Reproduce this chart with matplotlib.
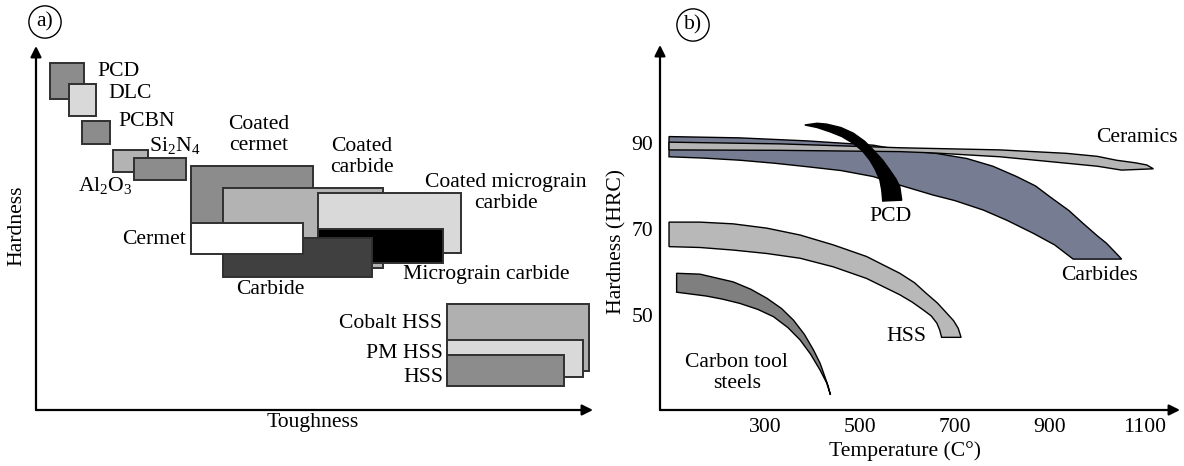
import numpy as np
import matplotlib
matplotlib.use('Agg')
import matplotlib.pyplot as plt

plt.rcParams['font.family'] = ['Liberation Serif', 'DejaVu Serif']
plt.rcParams['mathtext.fontset'] = 'custom'
plt.rcParams['mathtext.rm'] = 'Liberation Serif'
plt.rcParams['mathtext.it'] = 'Liberation Serif'
plt.rcParams['mathtext.default'] = 'regular'
FS = 15.6

# ---- panel a: toughness / hardness ranges (arbitrary units) ----
materials = ['Coated cermet', 'Coated carbide', 'Coated micrograin carbide', 'Micrograin carbide',
             'Carbide', 'Cermet', 'PCD', 'DLC', 'PCBN', 'Al2O3', 'Si2N4',
             'Cobalt HSS', 'PM HSS', 'HSS']
tough_lo = [155, 187, 282, 282, 187, 155, 14, 33, 46, 77, 98, 411, 411, 411]
tough_hi = [277, 347, 425, 407, 336, 267, 48, 60, 74, 112, 150, 553, 547, 528]
hard_lo = [170, 142, 157, 147, 133, 156, 311, 294, 266, 238, 230, 39, 33, 24]
hard_hi = [244, 222, 217, 181, 172, 187, 347, 326, 289, 260, 252, 106, 70, 55]
box_colors = ['#8c8c8c', '#b3b3b3', '#d9d9d9', '#000000', '#404040', '#ffffff',
              '#8c8c8c', '#d9d9d9', '#8c8c8c', '#b3b3b3', '#8c8c8c',
              '#b0b0b0', '#d9d9d9', '#8c8c8c']

# ---- panel b: hardness (HRC) vs temperature bands ----
carb_top_T = [98, 247, 388, 528, 584, 660, 725, 780, 830, 870, 900, 940, 970, 1000, 1019, 1040, 1051]
carb_top_H = [91.5, 91.2, 90.5, 89.5, 88.4, 87.6, 86.4, 84.6, 82.2, 80.0, 77.5, 74.3, 71.3, 68.4, 66.7, 64.3, 63.0]
carb_bot_T = [949, 910, 865, 810, 760, 700, 654, 584, 528, 460, 388, 320, 247, 170, 98]
carb_bot_H = [63.0, 66.3, 69.0, 72.0, 74.4, 76.6, 77.9, 80.2, 82.2, 83.6, 84.5, 85.3, 86.0, 86.5, 86.8]

cer_top_T = [98, 332, 584, 795, 935, 1000, 1040, 1080, 1104, 1118]
cer_top_H = [90.2, 89.8, 88.9, 88.4, 87.6, 86.9, 86.0, 85.4, 84.9, 84.0]
cer_bot_T = [1051, 1000, 935, 795, 654, 584, 332, 98]
cer_bot_H = [83.7, 84.6, 85.3, 86.8, 87.7, 88.0, 88.3, 88.4]

pcd_out_T = [384, 410, 430, 460, 486, 510, 528, 548, 563, 576, 584, 588]
pcd_out_H = [94.2, 94.6, 94.4, 93.6, 92.3, 90.4, 88.4, 86.0, 83.7, 81.6, 79.8, 76.7]
pcd_in_T = [548, 546, 542, 532, 521, 505, 486, 462, 437, 410]
pcd_in_H = [76.5, 79.0, 81.4, 83.9, 86.0, 88.2, 89.9, 91.5, 92.6, 93.6]

hss_top_T = [98, 163, 233, 304, 374, 444, 514, 584, 615, 640, 663, 683, 697, 707, 713]
hss_top_H = [71.6, 71.6, 71.2, 70.2, 68.6, 66.3, 63.6, 59.7, 57.5, 55.0, 52.8, 50.4, 48.7, 46.9, 44.8]
hss_bot_T = [672, 668, 662, 650, 633, 610, 584, 514, 444, 374, 304, 233, 163, 98]
hss_bot_H = [44.8, 46.5, 48.1, 49.8, 51.2, 53.0, 54.7, 58.5, 61.2, 63.2, 64.3, 65.1, 65.7, 65.9]

cts_top_T = [114, 163, 233, 270, 304, 335, 360, 383, 402, 416, 426, 433, 438]
cts_top_H = [59.7, 59.5, 57.7, 56.0, 53.9, 51.5, 48.8, 45.5, 41.9, 38.8, 35.7, 33.5, 31.4]
cts_bot_T = [430, 416, 396, 374, 348, 318, 285, 247, 210, 177, 114]
cts_bot_H = [34.2, 37.2, 40.9, 44.2, 47.1, 49.6, 51.3, 52.7, 53.7, 54.4, 55.3]

temp_ticks = [300, 500, 700, 900, 1100]
hrc_ticks = [50, 70, 90]

W, H = 1184, 466
fig = plt.figure(figsize=(W / 100, H / 100), dpi=100)


def arrows(ax):
    for s in ax.spines.values():
        s.set_visible(False)
    kw = dict(arrowstyle='-|>', color='black', lw=1.6, mutation_scale=16, shrinkA=0, shrinkB=0)
    ax.annotate('', xy=(1, 0), xytext=(0, 0), xycoords='axes fraction', arrowprops=kw)
    ax.annotate('', xy=(0, 1), xytext=(0, 0), xycoords='axes fraction', arrowprops=kw)


# panel a
ax1 = fig.add_axes([36 / W, 56 / H, 557 / W, 364 / H])
ax1.set_xlim(0, 557)
ax1.set_ylim(0, 364)
ax1.set_xticks([])
ax1.set_yticks([])
arrows(ax1)
for i in range(len(materials)):
    ax1.add_patch(plt.Rectangle((tough_lo[i], hard_lo[i]), tough_hi[i] - tough_lo[i],
                                hard_hi[i] - hard_lo[i], fc=box_colors[i], ec='#303030', lw=1.4))

ax1.text(61, 339, 'PCD', fontsize=FS, va='center')
ax1.text(72, 317, 'DLC', fontsize=FS, va='center')
ax1.text(82, 289, 'PCBN', fontsize=FS, va='center')
ax1.text(113, 264, r'Si$_2$N$_4$', fontsize=FS, va='center')
ax1.text(42, 224, r'Al$_2$O$_3$', fontsize=FS, va='center')
ax1.text(223, 275, 'Coated\ncermet', fontsize=FS, ha='center', va='center', linespacing=1.15)
ax1.text(326, 253, 'Coated\ncarbide', fontsize=FS, ha='center', va='center', linespacing=1.15)
ax1.text(470, 217, 'Coated micrograin\ncarbide', fontsize=FS, ha='center', va='center', linespacing=1.15)
ax1.text(150, 170, 'Cermet', fontsize=FS, ha='right', va='center')
ax1.text(367, 136, 'Micrograin carbide', fontsize=FS, va='center')
ax1.text(234, 120, 'Carbide', fontsize=FS, ha='center', va='center')
ax1.text(406, 87, 'Cobalt HSS', fontsize=FS, ha='right', va='center')
ax1.text(407, 57, 'PM HSS', fontsize=FS, ha='right', va='center')
ax1.text(407, 32, 'HSS', fontsize=FS, ha='right', va='center')
ax1.text(-19, 184, 'Hardness', fontsize=FS, rotation=90, ha='center', va='center')
ax1.text(277, -13, 'Toughness', fontsize=FS, ha='center', va='center')

# panel b
ax2 = fig.add_axes([660 / W, 56 / H, 520 / W, 365 / H])
ax2.set_xlim(79, 1174)
ax2.set_ylim(27.9, 112.8)
arrows(ax2)
ax2.set_xticks(temp_ticks)
ax2.set_yticks(hrc_ticks)
ax2.tick_params(length=0, labelsize=FS)
ax2.tick_params(axis='x', pad=6)
ax2.tick_params(axis='y', pad=5)

ax2.fill(cts_top_T + cts_bot_T, cts_top_H + cts_bot_H, fc='#7f7f7f', ec='black', lw=1)
ax2.fill(hss_top_T + hss_bot_T, hss_top_H + hss_bot_H, fc='#b8b8b8', ec='black', lw=1)
ax2.fill(carb_top_T + carb_bot_T, carb_top_H + carb_bot_H, fc='#767c91', ec='black', lw=1)
ax2.fill(cer_top_T + cer_bot_T, cer_top_H + cer_bot_H, fc='#b5b5b5', ec='black', lw=1)
ax2.fill(pcd_out_T + pcd_in_T, pcd_out_H + pcd_in_H, fc='black', ec='black', lw=1)

ax2.text(565, 72.8, 'PCD', fontsize=FS, ha='center', va='center')
ax2.text(1083, 91.4, 'Ceramics', fontsize=FS, ha='center', va='center')
ax2.text(1005, 59.3, 'Carbides', fontsize=FS, ha='center', va='center')
ax2.text(597, 44.9, 'HSS', fontsize=FS, ha='center', va='center')
ax2.text(241, 36.5, 'Carbon tool\nsteels', fontsize=FS, ha='center', va='center', linespacing=1.15)
ax2.text(-11, 67, 'Hardness (HRC)', fontsize=FS, rotation=90, ha='center', va='center')
ax2.text(595, 18.4, 'Temperature (C°)', fontsize=FS, ha='center', va='center')

circ = dict(boxstyle='circle,pad=0.3', fc='white', ec='black', lw=1)
fig.text(45 / W, 1 - 22 / H, 'a)', fontsize=FS, ha='center', va='center', bbox=circ)
fig.text(693 / W, 1 - 25 / H, 'b)', fontsize=FS, ha='center', va='center', bbox=circ)

fig.savefig('out.png', dpi=100)
